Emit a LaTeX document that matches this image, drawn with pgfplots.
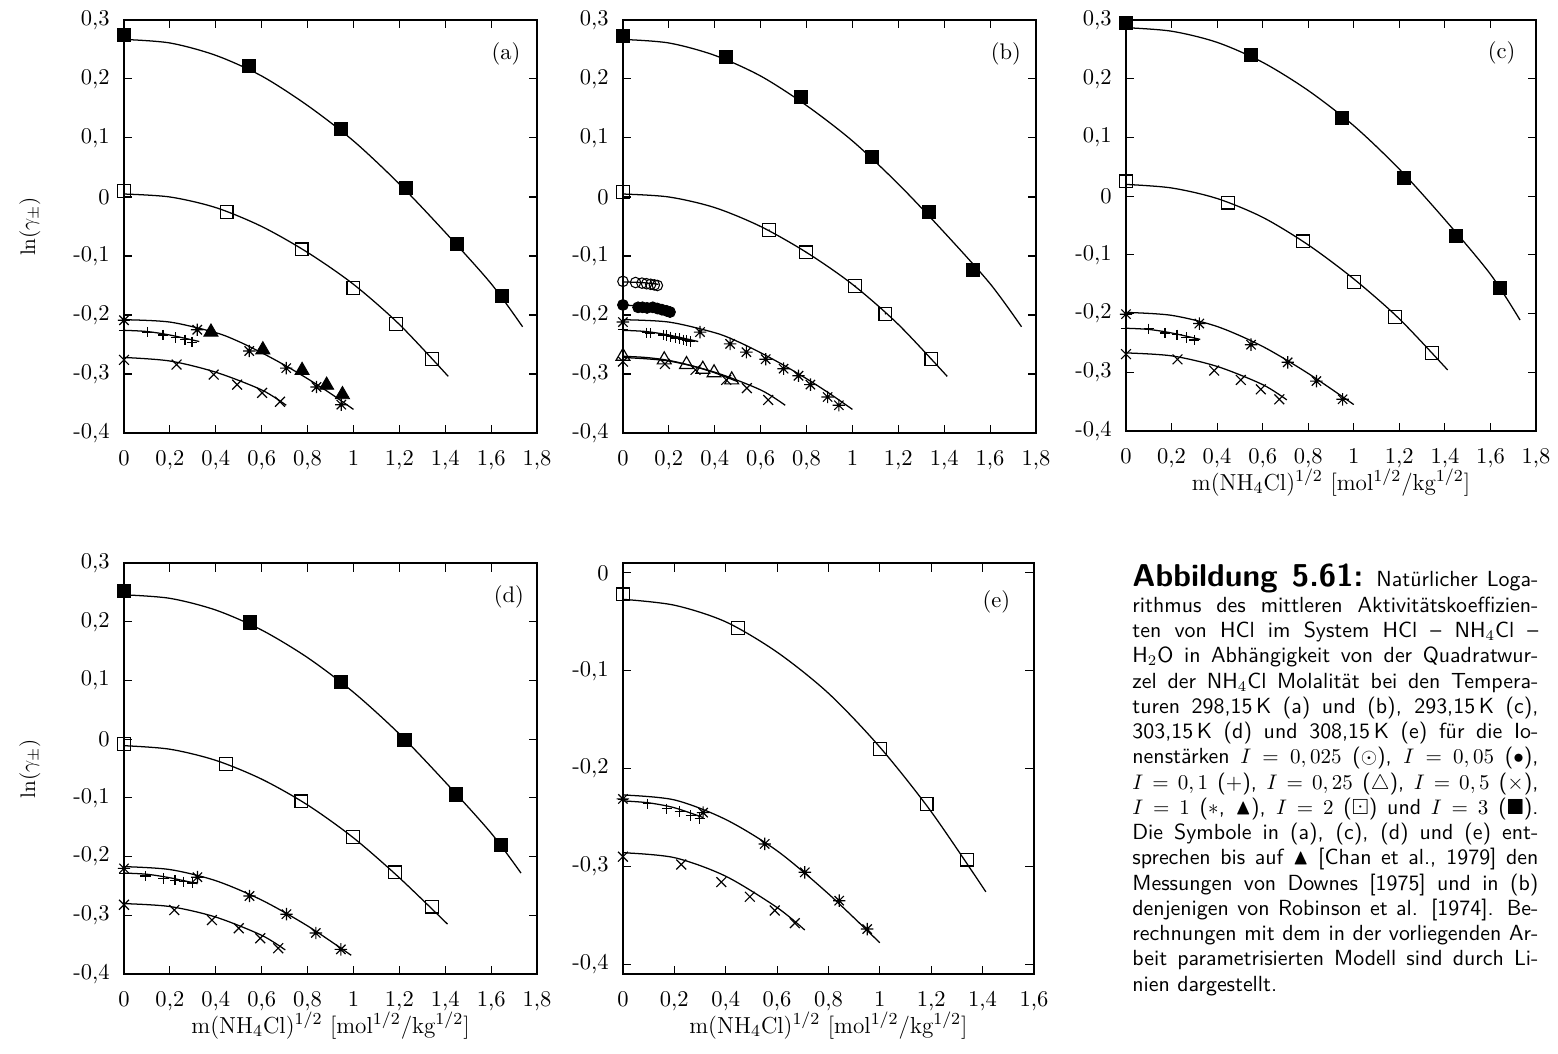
\documentclass[border=0pt]{standalone}
\usepackage{amssymb}
\usepackage{pgfplots}
\pgfplotsset{compat=1.18}

\pgfdeclareplotmark{gpstar}{%
  \pgfpathmoveto{\pgfqpoint{-\pgfplotmarksize}{0pt}}\pgfpathlineto{\pgfqpoint{\pgfplotmarksize}{0pt}}%
  \pgfpathmoveto{\pgfqpoint{0pt}{-\pgfplotmarksize}}\pgfpathlineto{\pgfqpoint{0pt}{\pgfplotmarksize}}%
  \pgfpathmoveto{\pgfqpoint{-.75\pgfplotmarksize}{-.75\pgfplotmarksize}}\pgfpathlineto{\pgfqpoint{.75\pgfplotmarksize}{.75\pgfplotmarksize}}%
  \pgfpathmoveto{\pgfqpoint{-.75\pgfplotmarksize}{.75\pgfplotmarksize}}\pgfpathlineto{\pgfqpoint{.75\pgfplotmarksize}{-.75\pgfplotmarksize}}%
  \pgfusepathqstroke}
\pgfdeclareplotmark{sqdot}{%
  \pgfpathrectangle{\pgfqpoint{-\pgfplotmarksize}{-\pgfplotmarksize}}{\pgfqpoint{2\pgfplotmarksize}{2\pgfplotmarksize}}%
  \pgfusepathqstroke
  \pgfpathcircle{\pgfpointorigin}{0.4pt}\pgfusepathqfill}

\pgfplotsset{
  gp/.style={
    scale only axis, anchor=south west, clip=false,
    xmin=0, xmax=1.8, ymin=-0.4, ymax=0.3,
    xtick={0,0.2,0.4,0.6,0.8,1,1.2,1.4,1.6,1.8},
    xticklabels={0,{0,2},{0,4},{0,6},{0,8},1,{1,2},{1,4},{1,6},{1,8}},
    ytick={-0.4,-0.3,-0.2,-0.1,0,0.1,0.2,0.3},
    yticklabels={{-0,4},{-0,3},{-0,2},{-0,1},0,{0,1},{0,2},{0,3}},
    tick align=inside, xtick pos=both, ytick pos=both,
    major tick length=4pt,
    every tick/.append style={line width=0.5pt, black},
    axis line style={line width=0.95pt},
    tick label style={font=\fontsize{10.7}{12}\selectfont},
    xticklabel style={yshift=-4.6pt},
    yticklabel style={xshift=-3.3pt},
    label style={font=\fontsize{11}{13}\selectfont},
    ylabel style={at={(axis description cs:-0.228,0.5)}, anchor=center, font=\fontsize{10.3}{12}\selectfont},
    xlabel style={at={(axis description cs:0.5,0)}, anchor=center, yshift=-24.5pt},
  },
  fit/.style={black, line width=0.6pt, smooth, no marks},
  fsq/.style={only marks, mark=square*, mark size=3.1pt, mark options={fill=black, line width=0.4pt}},
  osq/.style={only marks, mark=square, mark size=3.05pt, mark options={line width=0.55pt}},
  dsq/.style={only marks, mark=sqdot, mark size=3.05pt, mark options={line width=0.55pt}},
  ast/.style={only marks, mark=gpstar, mark size=2.95pt, mark options={line width=0.55pt}},
  pls/.style={only marks, mark=+, mark size=2.45pt, mark options={line width=0.55pt}},
  crs/.style={only marks, mark=x, mark size=3.3pt, mark options={line width=0.55pt}},
  otri/.style={only marks, mark=triangle, mark size=3.8pt, mark options={line width=0.55pt}},
  ftri/.style={only marks, mark=triangle*, mark size=3.9pt, mark options={fill=black, line width=0.4pt}},
  ocirc/.style={only marks, mark=o, mark size=2.5pt, mark options={line width=0.5pt}},
  fcirc/.style={only marks, mark=*, mark size=2.6pt, mark options={fill=black}},
}
\newcommand{\jl}[1]{\makebox[\linewidth][s]{#1}\\}

\begin{document}
\begin{tikzpicture}
\useasboundingbox (0,0) rectangle (740.05pt,500.18pt);

% ---------------- (a) ----------------
\begin{axis}[gp, at={(58.9pt,294.5pt)}, width=196.2pt, height=196.2pt,
  ylabel={$\ln(\gamma_{\pm})$}]
\addplot[fit] coordinates {(0,0.267) (0.2,0.261) (0.4,0.240) (0.6,0.205) (0.8,0.155) (1.0,0.095) (1.2,0.022) (1.4,-0.060) (1.6,-0.147) (1.737,-0.220)};
\addplot[fsq] coordinates {(0,0.275) (0.546,0.222) (0.947,0.116) (1.229,0.015) (1.451,-0.080) (1.647,-0.168)};
\addplot[fit] coordinates {(0,0.005) (0.2,0.0) (0.4,-0.018) (0.6,-0.050) (0.8,-0.094) (1.0,-0.148) (1.2,-0.216) (1.413,-0.304)};
\addplot[osq] coordinates {(0,0.010) (0.447,-0.025) (0.774,-0.089) (1.0,-0.154) (1.185,-0.215) (1.341,-0.275)};
\addplot[fit] coordinates {(0,-0.208) (0.2,-0.212) (0.4,-0.230) (0.5,-0.245) (0.6,-0.264) (0.7,-0.285) (0.8,-0.308) (0.9,-0.333) (1.0,-0.360)};
\addplot[ast] coordinates {(0,-0.209) (0.319,-0.225) (0.546,-0.261) (0.707,-0.290) (0.839,-0.322) (0.947,-0.352)};
\addplot[ftri] coordinates {(0.379,-0.229) (0.605,-0.259) (0.776,-0.294) (0.883,-0.319) (0.952,-0.335)};
\addplot[fit] coordinates {(0,-0.226) (0.1,-0.228) (0.2,-0.234) (0.328,-0.245)};
\addplot[pls] coordinates {(0,-0.226) (0.102,-0.229) (0.170,-0.234) (0.226,-0.238) (0.266,-0.242) (0.296,-0.246)};
\addplot[fit] coordinates {(0,-0.272) (0.2,-0.278) (0.4,-0.297) (0.6,-0.327) (0.707,-0.353)};
\addplot[crs] coordinates {(0,-0.276) (0.229,-0.284) (0.391,-0.301) (0.493,-0.318) (0.602,-0.332) (0.68,-0.347)};
\node[font=\fontsize{10.7}{12}\selectfont] at (rel axis cs:0.925,0.918) {(a)};
\end{axis}

% ---------------- (b) ----------------
\begin{axis}[gp, at={(295.9pt,294.5pt)}, width=196.2pt, height=196.2pt]
\addplot[fit] coordinates {(0,0.267) (0.2,0.261) (0.4,0.240) (0.6,0.205) (0.8,0.155) (1.0,0.095) (1.2,0.022) (1.4,-0.060) (1.6,-0.147) (1.737,-0.220)};
\addplot[fsq] coordinates {(0,0.273) (0.450,0.238) (0.776,0.169) (1.087,0.068) (1.332,-0.025) (1.524,-0.123)};
\addplot[fit] coordinates {(0,0.005) (0.2,0.0) (0.4,-0.018) (0.6,-0.050) (0.8,-0.094) (1.0,-0.148) (1.2,-0.216) (1.413,-0.304)};
\addplot[dsq] coordinates {(0,0.008) (0.637,-0.056) (0.799,-0.094) (1.012,-0.151) (1.144,-0.198) (1.344,-0.275)};
\addplot[fit] coordinates {(0,-0.144) (0.08,-0.145) (0.155,-0.148)};
\addplot[ocirc] coordinates {(0,-0.143) (0.055,-0.145) (0.083,-0.146) (0.103,-0.147) (0.121,-0.148) (0.137,-0.149) (0.150,-0.150)};
\addplot[fit] coordinates {(0,-0.183) (0.1,-0.186) (0.21,-0.193)};
\addplot[fcirc] coordinates {(0,-0.183) (0.066,-0.187) (0.085,-0.187) (0.105,-0.188) (0.13,-0.187) (0.15,-0.189) (0.17,-0.191) (0.19,-0.193) (0.205,-0.195)};
\addplot[fit] coordinates {(0,-0.208) (0.2,-0.212) (0.4,-0.230) (0.5,-0.245) (0.6,-0.264) (0.7,-0.285) (0.8,-0.308) (0.9,-0.333) (1.0,-0.360)};
\addplot[ast] coordinates {(0,-0.212) (0.336,-0.229) (0.467,-0.249) (0.538,-0.263) (0.622,-0.275) (0.700,-0.291) (0.765,-0.303) (0.817,-0.318) (0.892,-0.339) (0.941,-0.353)};
\addplot[fit] coordinates {(0,-0.226) (0.1,-0.228) (0.2,-0.234) (0.328,-0.245)};
\addplot[pls] coordinates {(0,-0.225) (0.104,-0.230) (0.119,-0.231) (0.177,-0.234) (0.191,-0.235) (0.209,-0.237) (0.228,-0.239) (0.246,-0.240) (0.264,-0.242) (0.278,-0.243) (0.293,-0.245)};
\addplot[fit] coordinates {(0,-0.270) (0.1,-0.272) (0.2,-0.277) (0.3,-0.286) (0.4,-0.298) (0.5,-0.313)};
\addplot[otri] coordinates {(0,-0.270) (0.18,-0.276) (0.277,-0.284) (0.348,-0.292) (0.397,-0.298) (0.474,-0.310)};
\addplot[fit] coordinates {(0,-0.272) (0.2,-0.278) (0.4,-0.297) (0.6,-0.327) (0.707,-0.353)};
\addplot[crs] coordinates {(0,-0.279) (0.183,-0.283) (0.316,-0.293) (0.45,-0.310) (0.54,-0.324) (0.633,-0.344)};
\node[font=\fontsize{10.7}{12}\selectfont] at (rel axis cs:0.927,0.918) {(b)};
\end{axis}

% ---------------- (c) ----------------
\begin{axis}[gp, at={(534.85pt,295.45pt)}, width=194.75pt, height=195.2pt,
  xlabel={m(NH$_4$Cl)$^{1/2}$ [mol$^{1/2}$/kg$^{1/2}$]}]
\addplot[fit] coordinates {(0,0.287) (0.2,0.281) (0.4,0.262) (0.6,0.228) (0.8,0.180) (1.0,0.120) (1.2,0.046) (1.4,-0.040) (1.6,-0.133) (1.73,-0.211)};
\addplot[fsq] coordinates {(0,0.295) (0.548,0.241) (0.948,0.133) (1.222,0.031) (1.449,-0.067) (1.642,-0.157)};
\addplot[fit] coordinates {(0,0.020) (0.2,0.014) (0.4,-0.004) (0.6,-0.036) (0.8,-0.083) (1.0,-0.141) (1.2,-0.209) (1.412,-0.296)};
\addplot[osq] coordinates {(0,0.025) (0.449,-0.011) (0.776,-0.077) (1.0,-0.146) (1.182,-0.206) (1.342,-0.267)};
\addplot[fit] coordinates {(0,-0.198) (0.2,-0.203) (0.4,-0.222) (0.6,-0.256) (0.8,-0.302) (1.0,-0.355)};
\addplot[ast] coordinates {(0,-0.201) (0.322,-0.217) (0.549,-0.253) (0.710,-0.283) (0.836,-0.315) (0.951,-0.346)};
\addplot[fit] coordinates {(0,-0.225) (0.1,-0.227) (0.2,-0.233) (0.326,-0.244)};
\addplot[pls] coordinates {(0,-0.225) (0.1,-0.226) (0.171,-0.233) (0.224,-0.236) (0.266,-0.241) (0.300,-0.245)};
\addplot[fit] coordinates {(0,-0.267) (0.2,-0.272) (0.4,-0.290) (0.6,-0.321) (0.706,-0.347)};
\addplot[crs] coordinates {(0,-0.269) (0.226,-0.278) (0.387,-0.297) (0.504,-0.313) (0.592,-0.329) (0.673,-0.346)};
\node[font=\fontsize{10.7}{12}\selectfont] at (rel axis cs:0.916,0.919) {(c)};
\end{axis}

% ---------------- (d) ----------------
\begin{axis}[gp, at={(58.9pt,37.5pt)}, width=196.2pt, height=195.2pt,
  ylabel={$\ln(\gamma_{\pm})$},
  xlabel={m(NH$_4$Cl)$^{1/2}$ [mol$^{1/2}$/kg$^{1/2}$]}]
\addplot[fit] coordinates {(0,0.246) (0.2,0.240) (0.4,0.220) (0.6,0.186) (0.8,0.139) (1.0,0.080) (1.2,0.009) (1.4,-0.073) (1.6,-0.160) (1.73,-0.228)};
\addplot[fsq] coordinates {(0,0.252) (0.547,0.199) (0.945,0.097) (1.222,-0.001) (1.448,-0.094) (1.641,-0.180)};
\addplot[fit] coordinates {(0,-0.011) (0.2,-0.017) (0.4,-0.036) (0.6,-0.068) (0.8,-0.112) (1.0,-0.168) (1.2,-0.236) (1.41,-0.315)};
\addplot[osq] coordinates {(0,-0.008) (0.445,-0.042) (0.773,-0.106) (0.997,-0.166) (1.180,-0.227) (1.341,-0.285)};
\addplot[fit] coordinates {(0,-0.217) (0.2,-0.222) (0.4,-0.241) (0.6,-0.274) (0.8,-0.318) (0.99,-0.368)};
\addplot[ast] coordinates {(0,-0.220) (0.32,-0.235) (0.547,-0.267) (0.708,-0.298) (0.836,-0.330) (0.945,-0.358)};
\addplot[fit] coordinates {(0,-0.228) (0.1,-0.230) (0.2,-0.236) (0.32,-0.246)};
\addplot[pls] coordinates {(0,-0.228) (0.094,-0.233) (0.172,-0.237) (0.222,-0.240) (0.261,-0.243) (0.297,-0.245)};
\addplot[fit] coordinates {(0,-0.280) (0.2,-0.285) (0.4,-0.303) (0.6,-0.334) (0.703,-0.359)};
\addplot[crs] coordinates {(0,-0.282) (0.219,-0.291) (0.383,-0.308) (0.5,-0.322) (0.594,-0.339) (0.672,-0.356)};
\node[font=\fontsize{10.7}{12}\selectfont] at (rel axis cs:0.932,0.917) {(d)};
\end{axis}

% ---------------- (e) ----------------
\begin{axis}[gp, at={(295.9pt,37.5pt)}, width=195.2pt, height=195.2pt,
  xmin=0, xmax=1.6, ymin=-0.41, ymax=0.01,
  xtick={0,0.2,0.4,0.6,0.8,1,1.2,1.4,1.6},
  xticklabels={0,{0,2},{0,4},{0,6},{0,8},1,{1,2},{1,4},{1,6}},
  ytick={-0.4,-0.3,-0.2,-0.1,0},
  yticklabels={{-0,4},{-0,3},{-0,2},{-0,1},0},
  xlabel={m(NH$_4$Cl)$^{1/2}$ [mol$^{1/2}$/kg$^{1/2}$]}]
\addplot[fit] coordinates {(0,-0.027) (0.2,-0.033) (0.4,-0.050) (0.6,-0.081) (0.8,-0.123) (1.0,-0.178) (1.2,-0.244) (1.413,-0.326)};
\addplot[osq] coordinates {(0,-0.022) (0.448,-0.056) (1.0,-0.180) (1.182,-0.236) (1.340,-0.293)};
\addplot[fit] coordinates {(0,-0.227) (0.2,-0.232) (0.4,-0.252) (0.6,-0.284) (0.8,-0.328) (1.0,-0.378)};
\addplot[ast] coordinates {(0,-0.231) (0.312,-0.245) (0.552,-0.277) (0.708,-0.306) (0.842,-0.335) (0.951,-0.364)};
\addplot[fit] coordinates {(0,-0.233) (0.1,-0.235) (0.2,-0.240) (0.312,-0.250)};
\addplot[pls] coordinates {(0,-0.232) (0.097,-0.236) (0.171,-0.241) (0.221,-0.244) (0.264,-0.248) (0.299,-0.251)};
\addplot[fit] coordinates {(0,-0.286) (0.2,-0.291) (0.4,-0.310) (0.6,-0.342) (0.708,-0.365)};
\addplot[crs] coordinates {(0,-0.290) (0.227,-0.298) (0.383,-0.316) (0.494,-0.331) (0.591,-0.345) (0.669,-0.358)};
\node[font=\fontsize{10.7}{12}\selectfont] at (rel axis cs:0.909,0.906) {(e)};
\end{axis}

% ---------------- caption ----------------
\node[anchor=base west, inner sep=0pt] at (537.7pt,221.35pt) {\parbox[t]{192.85pt}{%
\sffamily\fontsize{10.4}{12}\selectfont\setlength{\parindent}{0pt}%
\jl{{\bfseries\fontsize{15}{12}\selectfont Abbildung 5.61:} Natürlicher Loga-}%
\jl{rithmus des mittleren Aktivitätskoeffizien-}%
\jl{ten von HCl im System HCl -- NH$_4$Cl --}%
\jl{H$_2$O in Abhängigkeit von der Quadratwur-}%
\jl{zel der NH$_4$Cl Molalität bei den Tempera-}%
\jl{turen 298,15\,K (a) und (b), 293,15\,K (c),}%
\jl{303,15\,K (d) und 308,15\,K (e) für die Io-}%
\jl{nenstärken $I=0,025$ ($\odot$), $I=0,05$ ($\bullet$),}%
\jl{$I=0,1$ ($+$), $I=0,25$ ($\triangle$), $I=0,5$ ($\times$),}%
\jl{$I=1$ ($*$, $\blacktriangle$), $I=2$ ($\boxdot$) und $I=3$ ($\blacksquare$).}%
\jl{Die Symbole in (a), (c), (d) und (e) ent-}%
\jl{sprechen bis auf $\blacktriangle$ [Chan et al., 1979] den}%
\jl{Messungen von Downes [1975] und in (b)}%
\jl{denjenigen von Robinson et al. [1974]. Be-}%
\jl{rechnungen mit dem in der vorliegenden Ar-}%
\jl{beit parametrisierten Modell sind durch Li-}%
nien dargestellt.}};
\end{tikzpicture}
\end{document}
